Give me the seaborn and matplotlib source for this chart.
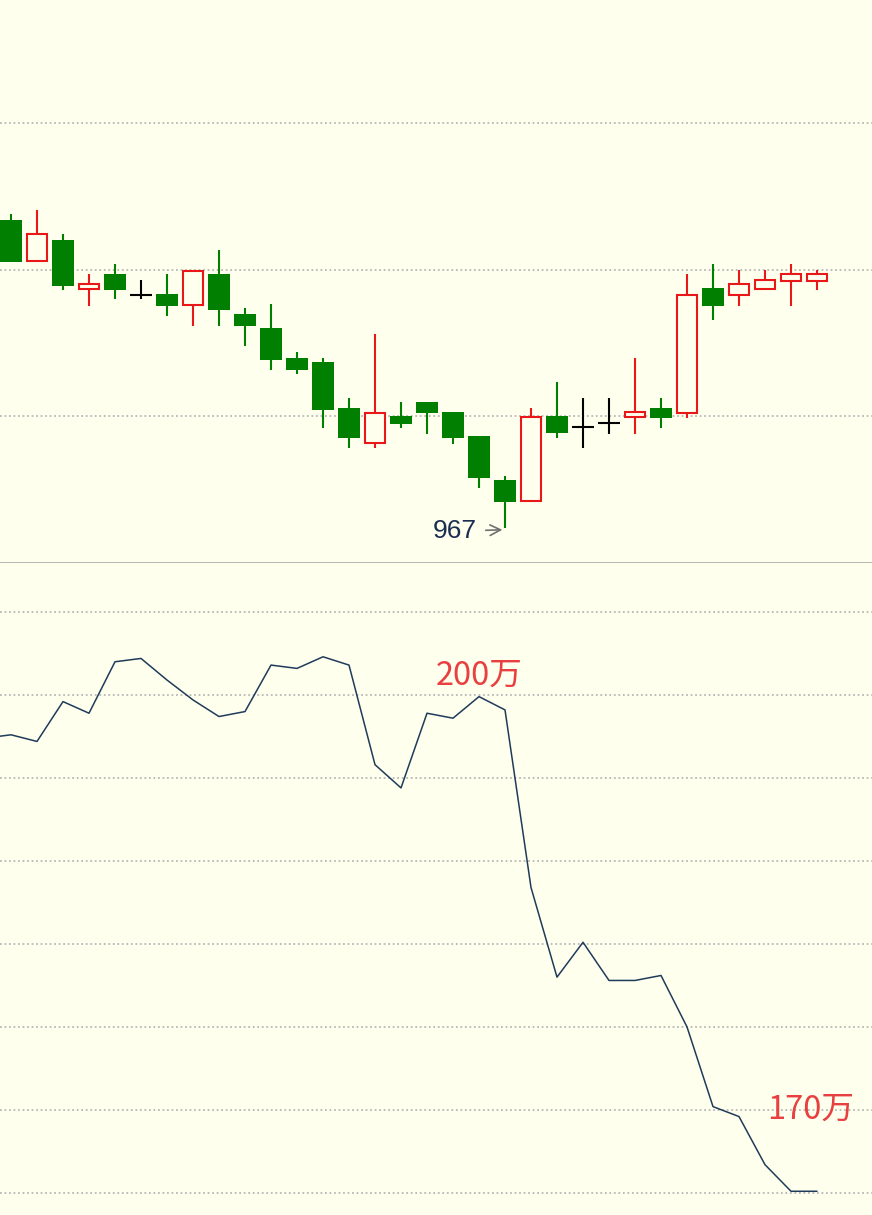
import matplotlib
matplotlib.use('Agg')
import matplotlib.pyplot as plt
import seaborn as sns
import pandas as pd

# K线数据
opens  = [1030.1, 1021.7, 1026.0, 1016.0, 1019.1, 1014.8, 1015.0, 1012.7, 1019.1, 1010.9,
          1008.0, 1001.9, 1001.1, 991.6, 984.5, 990.0, 992.9, 990.8, 985.9, 976.9,
          972.6, 990.0, 987.7, 988.6, 989.7, 991.6, 990.6, 1016.2, 1014.8, 1016.0,
          1017.6, 1017.6]
highs  = [1031.4, 1032.2, 1027.3, 1019.1, 1021.1, 1017.9, 1019.1, 1019.7, 1024.0, 1012.1,
          1012.9, 1003.1, 1001.9, 993.7, 1006.8, 992.9, 992.9, 990.8, 985.9, 977.7,
          991.6, 997.0, 993.7, 993.7, 1001.9, 993.7, 1019.1, 1021.1, 1019.9, 1019.9,
          1021.1, 1019.9]
lows   = [1021.5, 1021.7, 1015.8, 1012.5, 1014.0, 1014.0, 1010.5, 1008.4, 1008.4, 1004.3,
          999.4, 998.6, 987.5, 983.4, 983.4, 987.5, 986.3, 984.3, 975.3, 967.0,
          972.6, 985.5, 983.4, 986.3, 986.3, 987.5, 989.6, 1009.7, 1012.5, 1016.0,
          1012.5, 1015.8]
closes = [1021.5, 1027.3, 1016.7, 1017.0, 1015.8, 1014.8, 1012.5, 1019.7, 1011.7, 1008.4,
          1001.5, 999.4, 991.2, 985.5, 990.7, 988.4, 990.6, 985.5, 977.3, 972.4,
          989.9, 986.5, 987.7, 988.6, 990.8, 989.6, 1014.8, 1012.5, 1017.0, 1017.9,
          1019.1, 1019.1]

# 成交量 (万), 第一个点在画面左侧之外
vol_x = list(range(-1, 32))
vol = [197.4, 197.6, 197.2, 199.6, 198.9, 202.0, 202.2, 200.9, 199.7, 198.7, 199.0,
       201.8, 201.6, 202.3, 201.8, 195.8, 194.4, 198.9, 198.6, 199.9, 199.1,
       188.4, 183.0, 185.1, 182.8, 182.8, 183.1, 180.0, 175.2, 174.6, 171.7,
       170.1, 170.1]

price_grid = [990, 1020, 1050]
vol_grid = [170, 175, 180, 185, 190, 195, 200, 205]

bg = '#FFFFEE'
green = '#007F00'
red = '#E81818'
grid_color = '#B8B8B8'

sns.set_theme(style='white', rc={'axes.facecolor': bg, 'figure.facecolor': bg})
plt.rcParams['font.family'] = ['Noto Sans CJK SC', 'DejaVu Sans']

fig = plt.figure(figsize=(8.72, 12.15), dpi=100)
ax1 = fig.add_axes([0, 1 - 563 / 1215, 1, 563 / 1215])
ax2 = fig.add_axes([0, 0, 1, 1 - 563 / 1215])

df = pd.DataFrame({'o': opens, 'h': highs, 'l': lows, 'c': closes})

for i, r in df.iterrows():
    top = max(r.o, r.c)
    bot = min(r.o, r.c)
    if r.c > r.o:
        ax1.vlines(i, top, r.h, color=red, lw=1.5, zorder=3)
        ax1.vlines(i, r.l, bot, color=red, lw=1.5, zorder=3)
        ax1.bar(i, r.c - r.o, bottom=r.o, width=0.74, facecolor=bg,
                edgecolor=red, linewidth=1.5, zorder=4)
    elif r.c < r.o:
        ax1.vlines(i, r.l, r.h, color=green, lw=1.5, zorder=3)
        ax1.bar(i, r.o - r.c, bottom=r.c, width=0.84, color=green,
                linewidth=0, zorder=4)
    else:
        ax1.vlines(i, r.l, r.h, color='black', lw=1.5, zorder=3)
        ax1.hlines(r.c, i - 0.42, i + 0.42, color='black', lw=1.5, zorder=4)

# 最低点标注
low_i = df['l'].idxmin()
low_v = df['l'].min()
ax1.annotate(f"{low_v:.0f}", xy=(low_i - 0.1, low_v - 0.3),
             xytext=(low_i - 1.08, low_v - 0.6), ha='right', va='center',
             fontsize=19, color='#1A2E50', family=['Liberation Sans', 'DejaVu Sans'],
             arrowprops=dict(arrowstyle='->', color='#707070', lw=1.2,
                             shrinkA=4, shrinkB=0))

ax1.set_xlim(-0.423, 33.115)
ax1.set_ylim(959.9, 1075.2)
ax1.set_yticks(price_grid)

sns.lineplot(x=vol_x, y=vol, ax=ax2, color='#1F3B5A', lw=1.1)
ax2.set_xlim(-0.423, 33.115)
ax2.set_ylim(168.67, 207.95)
ax2.set_yticks(vol_grid)

ax2.text(18, 201.15, '200万', color='#E84040', fontsize=23.5, ha='center', va='center')
ax2.text(30.77, 175.0, '170万', color='#E84040', fontsize=23.5, ha='center', va='center')

for ax in (ax1, ax2):
    ax.grid(axis='y', linestyle=(0, (1, 1.5)), color=grid_color, linewidth=1.3)
    ax.grid(axis='x', visible=False)
    ax.tick_params(length=0, labelleft=False, labelbottom=False)
    ax.set_xlabel('')
    ax.set_ylabel('')
    ax.set_axisbelow(True)
    for s in ax.spines.values():
        s.set_visible(False)

ax1.spines['bottom'].set_visible(True)
ax1.spines['bottom'].set_color('#B0B0B0')
ax1.spines['bottom'].set_linewidth(1.3)

fig.savefig('out.png', dpi=100, facecolor=bg)
